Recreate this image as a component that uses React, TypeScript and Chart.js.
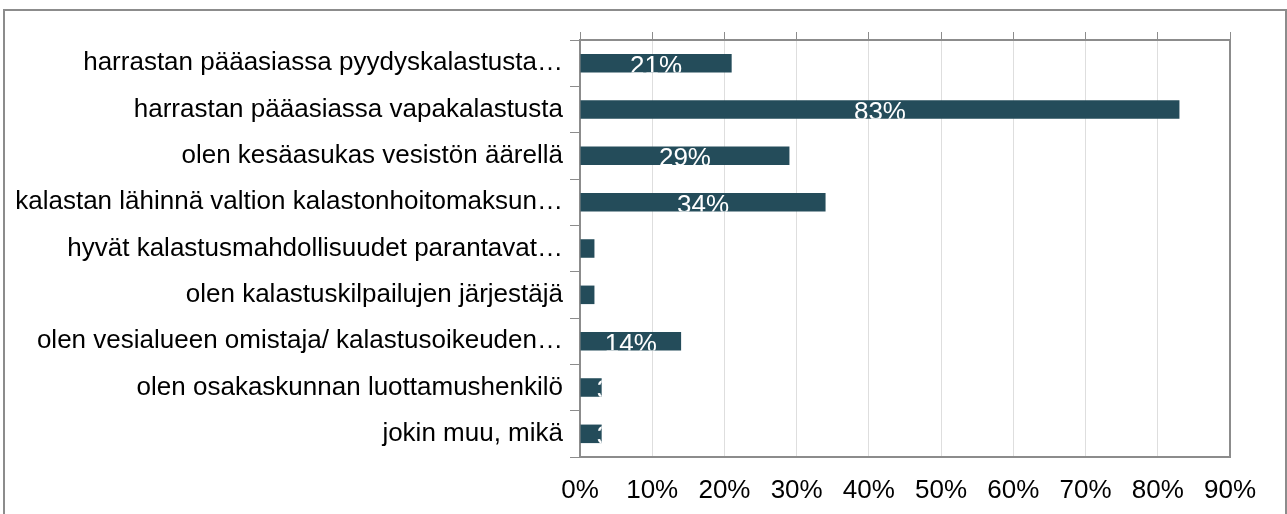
import React, { useEffect, useRef } from "react";
import { Chart, registerables } from "chart.js";

Chart.register(...registerables);

const categories: string[] = [
  "harrastan pääasiassa pyydyskalastusta…",
  "harrastan pääasiassa vapakalastusta",
  "olen kesäasukas vesistön äärellä",
  "kalastan lähinnä valtion kalastonhoitomaksun…",
  "hyvät kalastusmahdollisuudet parantavat…",
  "olen kalastuskilpailujen järjestäjä",
  "olen vesialueen omistaja/ kalastusoikeuden…",
  "olen osakaskunnan luottamushenkilö",
  "jokin muu, mikä",
];

const values: number[] = [21, 83, 29, 34, 2, 2, 14, 3, 3];

const valueLabels: string[] = ["21%", "83%", "29%", "34%", "", "", "14%", "3%", "3%"];

const xTickMax = 90;
const xTickStep = 10;

const FONT = "'Liberation Sans', Arial, sans-serif";
const BAR_COLOR = "#244C5A";
const AXIS_GRAY = "#8c8c8c";
const LABEL_SIZE = 26;

const framePlugin = {
  id: "frame",
  beforeDraw(chart: any) {
    const { ctx } = chart;
    ctx.save();
    ctx.fillStyle = "#ffffff";
    ctx.fillRect(0, 0, chart.width, chart.height);
    ctx.strokeStyle = AXIS_GRAY;
    ctx.lineWidth = 2;
    ctx.strokeRect(4, 10, 1282, 600);
    ctx.restore();
  },
  afterDatasetsDraw(chart: any) {
    const { ctx, chartArea } = chart;
    ctx.save();
    ctx.strokeStyle = AXIS_GRAY;
    ctx.lineWidth = 2;
    ctx.beginPath();
    ctx.moveTo(chartArea.right, chartArea.top - 1);
    ctx.lineTo(chartArea.right, chartArea.bottom + 1);
    ctx.stroke();
    ctx.restore();
  },
};

const labelPlugin = {
  id: "barLabels",
  afterDatasetsDraw(chart: any) {
    const { ctx } = chart;
    const meta = chart.getDatasetMeta(0);
    ctx.save();
    ctx.font = `${LABEL_SIZE}px ${FONT}`;
    ctx.fillStyle = "#ffffff";
    ctx.textBaseline = "alphabetic";
    meta.data.forEach((bar: any, i: number) => {
      const text = valueLabels[i];
      if (!text) return;
      const p = bar.getProps(["x", "y", "base", "height"], true);
      const left = Math.min(p.base, p.x);
      const w = Math.abs(p.x - p.base);
      const top = p.y - p.height / 2;
      const tw = ctx.measureText(text).width;
      ctx.save();
      ctx.beginPath();
      ctx.rect(left, top, w, p.height);
      ctx.clip();
      const baseline = top + 1 + LABEL_SIZE * 0.716;
      if (tw > w) {
        ctx.textAlign = "left";
        ctx.fillText(text, left + w - 5, baseline);
      } else {
        ctx.textAlign = "center";
        ctx.fillText(text, left + w / 2, baseline);
      }
      ctx.restore();
    });
    ctx.restore();
  },
};

export default function App() {
  const ref = useRef<HTMLCanvasElement | null>(null);

  useEffect(() => {
    if (!ref.current) return;
    const chart = new Chart(ref.current, {
      type: "bar",
      data: {
        labels: categories,
        datasets: [
          {
            data: values,
            backgroundColor: BAR_COLOR,
            borderWidth: 0,
            barPercentage: 0.4,
            categoryPercentage: 1,
          },
        ],
      },
      options: {
        indexAxis: "y",
        responsive: false,
        animation: false,
        layout: { padding: { left: 0, top: 32, right: 57, bottom: 0 } },
        plugins: {
          legend: { display: false },
          tooltip: { enabled: false },
        },
        scales: {
          y: {
            type: "category",
            position: "left",
            grid: {
              display: true,
              drawOnChartArea: false,
              drawTicks: true,
              tickLength: 10,
              color: AXIS_GRAY,
              lineWidth: 1,
              offset: true,
            },
            border: { display: true, color: AXIS_GRAY, width: 2 },
            ticks: {
              color: "#000000",
              font: { family: FONT, size: 26 },
              padding: 7,
              autoSkip: false,
            },
            afterFit: (s: any) => {
              s.width = 580;
            },
          },
          x: {
            type: "linear",
            position: "bottom",
            min: 0,
            max: xTickMax,
            grid: {
              color: "#dedede",
              lineWidth: 1,
              drawTicks: false,
            },
            border: { display: true, color: AXIS_GRAY, width: 2 },
            ticks: {
              stepSize: xTickStep,
              color: "#000000",
              font: { family: FONT, size: 26 },
              padding: 18,
              callback: (v: any) => `${v}%`,
            },
            afterFit: (s: any) => {
              s.height = 57;
            },
          },
          x2: {
            type: "linear",
            position: "top",
            min: 0,
            max: xTickMax,
            grid: {
              display: true,
              drawOnChartArea: false,
              drawTicks: true,
              tickLength: 8,
              color: AXIS_GRAY,
            },
            border: { display: true, color: AXIS_GRAY, width: 2 },
            ticks: { display: false, stepSize: xTickStep },
            afterFit: (s: any) => {
              s.height = 8;
            },
          },
        },
      },
      plugins: [framePlugin, labelPlugin],
    });
    return () => chart.destroy();
  }, []);

  return (
    <div style={{ position: "absolute", left: 0, top: 0, width: 1287, height: 514 }}>
      <canvas ref={ref} width={1287} height={514} style={{ display: "block" }} />
    </div>
  );
}
